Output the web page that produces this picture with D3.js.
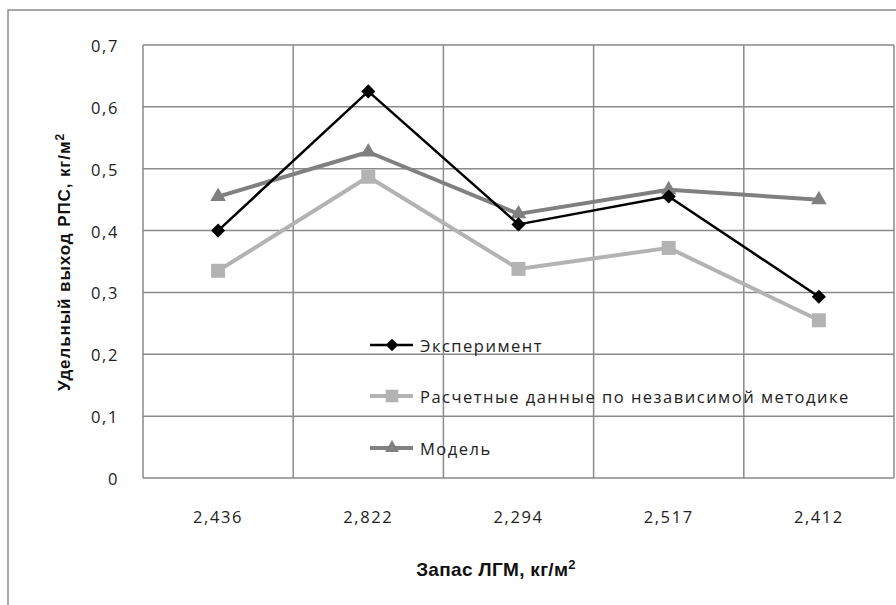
<!DOCTYPE html>
<html><head><meta charset="utf-8">
<script src="https://cdn.jsdelivr.net/npm/d3@7"></script>
<style>body{margin:0;background:#fff}svg{display:block}</style>
</head><body>
<svg id="c" width="896" height="605"></svg>
<script>
const categories = ["2,436","2,822","2,294","2,517","2,412"];
const experiment = [0.400,0.625,0.410,0.455,0.293];
const calculated = [0.335,0.487,0.338,0.372,0.255];
const model = [0.455,0.527,0.427,0.466,0.450];
const yTicks = [0,0.1,0.2,0.3,0.4,0.5,0.6,0.7];
const seriesNames = ["Эксперимент","Расчетные данные по независимой методике","Модель"];

const svg = d3.select("#c");
const m = {l:143, t:45, r:894, b:478};
const x = d3.scaleBand().domain(categories).range([m.l, m.r]);
const y = d3.scaleLinear().domain([0,0.7]).range([m.b, m.t]);
const grid = "#8a8a8a";
const lf = "Open Sans, sans-serif";

svg.append("rect").attr("x",8).attr("y",10).attr("width",900).attr("height",610)
  .attr("fill","none").attr("stroke","#8c8c8c").attr("stroke-width",1.5);

svg.append("g").selectAll("line").data(yTicks).join("line")
  .attr("x1",m.l).attr("x2",m.r).attr("y1",d=>y(d)).attr("y2",d=>y(d))
  .attr("stroke",grid).attr("stroke-width",1.5);
const vx = categories.map(c=>x(c)).concat([m.r]);
svg.append("g").selectAll("line").data(vx).join("line")
  .attr("x1",d=>d).attr("x2",d=>d).attr("y1",m.t).attr("y2",m.b)
  .attr("stroke",grid).attr("stroke-width",1.5);

svg.append("g").selectAll("text").data(yTicks).join("text")
  .attr("x",119).attr("y",d=>y(d)+7).attr("text-anchor","end")
  .attr("font-family",lf).attr("font-size",16.5).attr("letter-spacing",1.6).attr("fill","#222")
  .text(d=>d===0?"0":d3.format(".1f")(d).replace(".",","));
svg.append("g").selectAll("text").data(categories).join("text")
  .attr("x",d=>x(d)+x.bandwidth()/2).attr("y",523).attr("text-anchor","middle")
  .attr("font-family",lf).attr("font-size",16.5).attr("letter-spacing",1.6).attr("fill","#222")
  .text(d=>d);

const xt = svg.append("text").attr("x",496).attr("y",576).attr("text-anchor","middle")
  .attr("font-family","Liberation Sans, Arial, sans-serif").attr("font-weight","bold")
  .attr("font-size",19).attr("fill","#111").attr("letter-spacing",0.3);
xt.append("tspan").text("Запас ЛГМ,  кг/м");
xt.append("tspan").attr("font-size",13).attr("dy",-7).text("2");
const yt = svg.append("text").attr("transform","translate(70,262) rotate(-90)").attr("text-anchor","middle")
  .attr("font-family","Liberation Sans, Arial, sans-serif").attr("font-weight","bold")
  .attr("font-size",17).attr("fill","#111").attr("letter-spacing",0.9);
yt.append("tspan").text("Удельный выход РПС,  кг/м");
yt.append("tspan").attr("font-size",12).attr("dy",-6).text("2");

const series = [
  {name:seriesNames[0], values:experiment, color:"#000", w:2.5, sym:d3.symbolSquare, size:100, rot:45},
  {name:seriesNames[1], values:calculated, color:"#b3b3b3", w:4, sym:d3.symbolSquare, size:196, rot:0},
  {name:seriesNames[2], values:model, color:"#808080", w:4, sym:d3.symbolTriangle, size:105, rot:0}
];
const cx = i => x(categories[i]) + x.bandwidth()/2;
const line = d3.line().x((d,i)=>cx(i)).y(d=>y(d));
[1,2,0].forEach(k=>{
  const s = series[k];
  svg.append("path").datum(s.values).attr("d",line).attr("fill","none")
    .attr("stroke",s.color).attr("stroke-width",s.w).attr("stroke-linejoin","round");
  svg.append("g").selectAll("path").data(s.values).join("path")
    .attr("transform",(d,i)=>`translate(${cx(i)},${y(d)}) rotate(${s.rot})`)
    .attr("d",d3.symbol().type(s.sym).size(s.size)).attr("fill",s.color);
});

const ly = [345,396,448];
series.forEach((s,i)=>{
  const g = svg.append("g").attr("transform",`translate(0,${ly[i]})`);
  g.append("line").attr("x1",370).attr("x2",413).attr("y1",0).attr("y2",0)
    .attr("stroke",s.color).attr("stroke-width",s.w);
  g.append("path").attr("transform",`translate(392,0) rotate(${s.rot})`)
    .attr("d",d3.symbol().type(s.sym).size(s.size*0.8)).attr("fill",s.color);
  g.append("text").attr("x",420).attr("y",7).attr("font-family",lf)
    .attr("font-size",16.5).attr("letter-spacing",1.5).attr("fill","#222").text(s.name);
});
</script>
</body></html>
